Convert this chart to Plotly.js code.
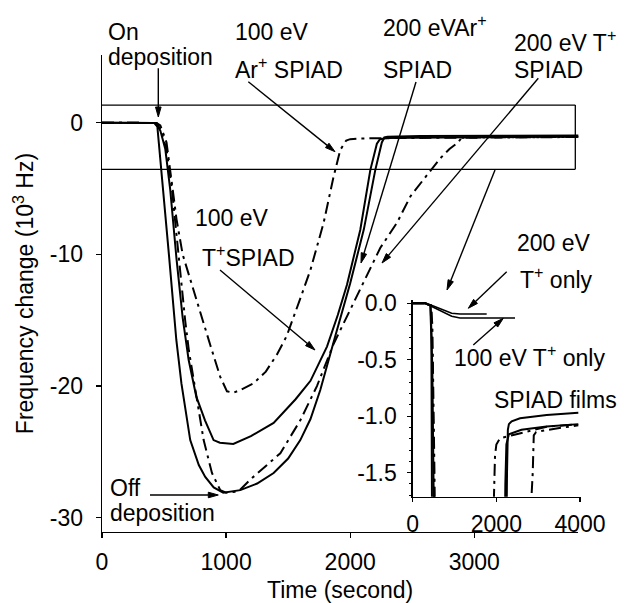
<!DOCTYPE html>
<html>
<head>
<meta charset="utf-8">
<script src="https://cdn.plot.ly/plotly-3.0.1.min.js"></script>
<style>html,body{margin:0;padding:0;background:#fff;}#chart{width:630px;height:603px;}</style>
</head>
<body>
<div id="chart"></div>
<script>
// ---- Data (time in s, frequency change in 10^3 Hz) ----
// 100 eV T+ SPIAD (solid, deepest)
const s1_t = [0,300,420,446,483,540,599,640,711,780,832,900,977,1114,1250,1383,1500,1598,1680,1759,1880,2000,2110,2202,2255,2275,2300,2367,2566,3204,3960];
const s1_v = [0,0,-0.02,-0.3,-4.0,-10.1,-16.5,-19.8,-24.1,-26.0,-26.9,-27.7,-28.1,-27.9,-27.4,-26.6,-25.5,-24.1,-22.5,-20.3,-16.2,-12.2,-8.1,-3.6,-1.5,-1.12,-1.07,-1.045,-1.018,-0.989,-0.969];
// 200 eV Ar+ SPIAD (solid, min about -24)
const s2_t = [0,300,430,470,510,550,600,650,698,760,830,899,950,1058,1200,1383,1560,1680,1813,1900,1974,2081,2162,2215,2240,2300,2600,3200,3960];
const s2_v = [0,0,-0.02,-0.6,-2.0,-5.1,-10.3,-14.8,-18.0,-20.8,-22.6,-24.1,-24.3,-24.4,-23.8,-22.8,-21.0,-19.6,-17.0,-14.6,-12.3,-8.15,-3.6,-1.6,-1.25,-1.16,-1.12,-1.09,-1.07];
// 100 eV Ar+ SPIAD (dash-dot, min about -20.5)
const d1_t = [0,300,440,470,520,577,600,650,711,792,873,953,1007,1060,1114,1220,1320,1410,1488,1600,1679,1786,1866,1920,1950,1968,2000,2087,2405,3204,3921];
const d1_v = [0,0,-0.02,-0.2,-1.5,-5.6,-7.3,-10.0,-11.9,-14.5,-16.9,-19.3,-20.4,-20.5,-20.3,-19.8,-18.9,-17.6,-16.2,-13.3,-11.2,-7.6,-4.1,-2.07,-1.6,-1.35,-1.25,-1.195,-1.166,-1.093,-1.071];
// 200 eV T+ SPIAD (dash-dot, min about -28, slow recovery)
const d2_t = [0,300,440,470,520,564,620,670,700,738,780,819,886,953,1000,1100,1195,1437,1598,1732,1866,1974,2108,2243,2377,2485,2592,2726,2800,2870,2895,2950,3204,3682,3960];
const d2_v = [0,0,-0.02,-0.5,-2.0,-5.1,-10.5,-15.0,-17.3,-19.5,-22.0,-24.1,-26.6,-27.9,-28.1,-28.0,-27.1,-25.1,-22.6,-20.0,-16.8,-14.7,-12.0,-9.5,-7.6,-5.6,-4.3,-2.7,-2.0,-1.5,-1.17,-1.14,-1.122,-1.093,-1.08];
// Inset only: T+ ion beam without deposition
const t200only_t = [0,294,493,932,1131,1769];
const t200only_v = [0,0.005,-0.024,-0.088,-0.095,-0.095];
const t100only_t = [0,294,493,932,1131,2446];
const t100only_v = [0,0,-0.035,-0.115,-0.13,-0.13];

// Tick labels
const mainXTicks = [0,1000,2000,3000];
const mainXText = ['0','1000','2000','3000'];
const mainYTicks = [0,-10,-20,-30];
const mainYText = ['0','-10','-20','-30'];
const insetXTicks = [0,2000,4000];
const insetXText = ['0','2000','4000'];
const insetYTicks = [0,-0.5,-1.0,-1.5];
const insetYText = ['0.0','-0.5','-1.0','-1.5'];

// Zoom box in main plot (data coords)
const boxX = [0, 3814];
const boxY = [1.34, -3.54];

const FONT = 'Liberation Sans, Arial, Helvetica, sans-serif';
const DASHDOT = '12px,5px,3px,5px';
const W = 630, H = 603, ML = 102, MR = 45, MT = 55, MB = 71;
const PW = W - ML - MR, PH = H - MT - MB;
const px2paperX = px => (px - ML) / PW;
const px2paperY = py => (H - MB - py) / PH;

function tr(x, y, dash, w, xa, ya) {
  return {x: x, y: y, type: 'scatter', mode: 'lines', xaxis: xa, yaxis: ya,
    line: {color: '#000', width: w, dash: dash}, hoverinfo: 'skip', showlegend: false};
}

const data = [
  tr(s1_t, s1_v, 'solid', 2, 'x', 'y'),
  tr(s2_t, s2_v, 'solid', 2, 'x', 'y'),
  tr(d1_t, d1_v, DASHDOT, 2, 'x', 'y'),
  tr(d2_t, d2_v, DASHDOT, 2, 'x', 'y'),
  tr(s1_t, s1_v, 'solid', 2, 'x2', 'y2'),
  tr(s2_t, s2_v, 'solid', 2, 'x2', 'y2'),
  tr(d1_t, d1_v, DASHDOT, 2, 'x2', 'y2'),
  tr(d2_t, d2_v, DASHDOT, 2, 'x2', 'y2'),
  tr(t200only_t, t200only_v, 'solid', 1.6, 'x2', 'y2'),
  tr(t100only_t, t100only_v, 'solid', 1.6, 'x2', 'y2')
];

// text labels: [text, left px, center-y px]
const labels = [
  ['On', 106, 32], ['deposition', 106, 57],
  ['100 eV', 233, 32], ['Ar<sup>+</sup> SPIAD', 233, 68],
  ['200 eVAr<sup>+</sup>', 381, 26], ['SPIAD', 381, 70],
  ['200 eV T<sup>+</sup>', 512, 41], ['SPIAD', 512, 70],
  ['100 eV', 193, 218], ['T<sup>+</sup>SPIAD', 200, 256],
  ['Off', 108, 488], ['deposition', 108, 513],
  ['200 eV', 515, 243], ['T<sup>+</sup> only', 518, 278],
  ['100 eV T<sup>+</sup> only', 451.7, 356], ['SPIAD films', 491.7, 400]
];
// arrows: [tailX, tailY, headX, headY] in px
const arrows = [
  [158.3, 68.3, 158.3, 117],
  [248.3, 81.7, 335, 151.7],
  [416, 82, 361, 263],
  [538.3, 78.3, 382, 263],
  [220, 270, 315, 350],
  [150, 495, 218.3, 495],
  [495, 170, 447, 290],
  [506.7, 271.7, 468.3, 308.3],
  [473.3, 345, 503.3, 318.3]
];

const annotations = labels.map(l => ({text: l[0], x: px2paperX(l[1]), y: px2paperY(l[2]),
  xref: 'paper', yref: 'paper', xanchor: 'left', yanchor: 'middle', showarrow: false,
  font: {family: FONT, size: 23, color: '#000'}}));

const line = {color: '#000', width: 1.3};
const shapes = [
  {type: 'line', xref: 'x', yref: 'y', x0: boxX[0], x1: boxX[1], y0: boxY[0], y1: boxY[0], line: line},
  {type: 'line', xref: 'x', yref: 'y', x0: boxX[0], x1: boxX[1], y0: boxY[1], y1: boxY[1], line: line},
  {type: 'line', xref: 'x', yref: 'y', x0: boxX[1], x1: boxX[1], y0: boxY[0], y1: boxY[1], line: line}
];
arrows.forEach(a => {
  const dx = a[2] - a[0], dy = a[3] - a[1], len = Math.hypot(dx, dy);
  const ux = dx / len, uy = dy / len, L = 10, hw = 2.8;
  const bx = a[2] - ux * L, by = a[3] - uy * L;
  shapes.push({type: 'line', xref: 'paper', yref: 'paper',
    x0: px2paperX(a[0]), y0: px2paperY(a[1]), x1: px2paperX(bx), y1: px2paperY(by),
    line: {color: '#000', width: 1.4}});
  const p1 = [a[2], a[3]], p2 = [bx - uy * hw, by + ux * hw], p3 = [bx + uy * hw, by - ux * hw];
  const f = p => px2paperX(p[0]) + ',' + px2paperY(p[1]);
  shapes.push({type: 'path', xref: 'paper', yref: 'paper',
    path: 'M' + f(p1) + ' L' + f(p2) + ' L' + f(p3) + ' Z',
    fillcolor: '#000', line: {color: '#000', width: 1}});
});

const axisCommon = {showgrid: false, zeroline: false, showline: true, linecolor: '#000', linewidth: 1.3,
  ticks: 'outside', tickcolor: '#000', tickwidth: 1.3, tickmode: 'array',
  tickfont: {family: FONT, size: 23, color: '#000'}};

const layout = {
  width: W, height: H,
  margin: {l: ML, r: MR, t: MT, b: MB},
  paper_bgcolor: '#fff', plot_bgcolor: 'rgba(0,0,0,0)',
  font: {family: FONT, color: '#000'},
  showlegend: false,
  xaxis: Object.assign({}, axisCommon, {domain: [0, 0.9861], range: [0, 3838], ticklen: 5,
    tickvals: mainXTicks, ticktext: mainXText, ticklabelstandoff: 4,
    title: {text: 'Time (second)', font: {family: FONT, size: 23}, standoff: 14}}),
  yaxis: Object.assign({}, axisCommon, {domain: [0, 1], range: [-31.08, 5.14], ticklen: 5,
    tickvals: mainYTicks, ticktext: mainYText, ticklabelstandoff: 8,
    title: {text: 'Frequency change (10<sup>3</sup> Hz)', font: {family: FONT, size: 23}, standoff: 9}}),
  xaxis2: Object.assign({}, axisCommon, {domain: [0.6433, 0.9917], range: [0, 4024], anchor: 'y2', ticklen: 4,
    tickvals: insetXTicks, ticktext: insetXText, ticklabelstandoff: 2}),
  yaxis2: Object.assign({}, axisCommon, {domain: [0.074, 0.4864], range: [-1.7126, 0.0292], anchor: 'x2', ticklen: 4,
    tickvals: insetYTicks, ticktext: insetYText, ticklabelstandoff: 6,
    minor: {tickmode: 'linear', tick0: 0, dtick: 0.1, ticks: 'outside', ticklen: 2.5, tickcolor: '#000', tickwidth: 1}}),
  shapes: shapes,
  annotations: annotations
};

Plotly.newPlot('chart', data, layout, {staticPlot: true, displayModeBar: false});
</script>
</body>
</html>
